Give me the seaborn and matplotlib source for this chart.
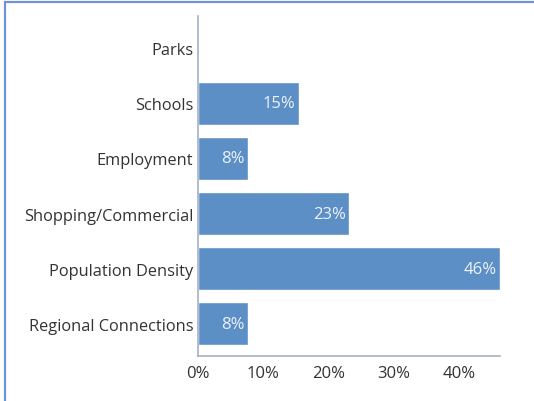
import matplotlib
matplotlib.use("Agg")
import matplotlib.pyplot as plt
import seaborn as sns
import pandas as pd
from matplotlib.patches import Rectangle

categories = ["Parks", "Schools", "Employment", "Shopping/Commercial",
              "Population Density", "Regional Connections"]
values = [0, 15.4, 7.7, 23.1, 46.2, 7.7]
labels = ["", "15%", "8%", "23%", "46%", "8%"]
xticks = [0, 10, 20, 30, 40]
xticklabels = ["0%", "10%", "20%", "30%", "40%"]

sns.set_style("white")
plt.rcParams['font.family'] = ['Open Sans', 'DejaVu Sans']

df = pd.DataFrame({"category": categories, "value": values})

fig = plt.figure(figsize=(5.34, 4.02), dpi=100)
ax = fig.add_axes([198/534, 1-357/402, (500-198)/534, (357-17)/402])

sns.barplot(data=df, y="category", x="value", orient="h", color="#5b8fc5",
            saturation=1, width=0.78, ax=ax)

for i, (v, lab) in enumerate(zip(values, labels)):
    if lab:
        ax.text(v - 0.5, i, lab, ha="right", va="center", color="#eef3fb",
                fontsize=12)

ax.set_xlim(0, 46.2)
ax.set_ylim(5.59, -0.59)
ax.set_xticks(xticks)
ax.set_xticklabels(xticklabels, fontsize=12, color="#333333")
ax.tick_params(axis="y", labelsize=11.8, labelcolor="#333333", length=0, pad=3.5)
ax.tick_params(axis="x", length=2.5, width=0.8, color="#9aa8bd", pad=4)
ax.set_xlabel("")
ax.set_ylabel("")
for s in ["top", "right"]:
    ax.spines[s].set_visible(False)
ax.spines["left"].set_color("#a3b1c6")
ax.spines["left"].set_linewidth(1.2)
ax.spines["bottom"].set_color("#a3b1c6")
ax.spines["bottom"].set_linewidth(1.2)

fig.patches.append(Rectangle((5/534, -0.1), 1.2, 1 - 3/402 + 0.1,
                             transform=fig.transFigure, fill=False,
                             edgecolor="#6f93d8", linewidth=1.6))

fig.savefig("out.png", dpi=100)
